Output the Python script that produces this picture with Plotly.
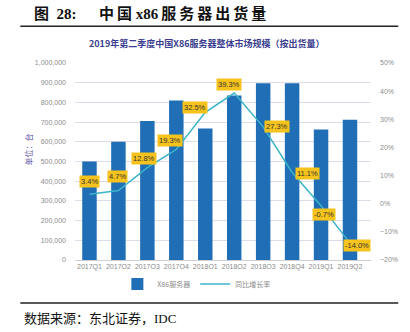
import plotly.graph_objects as go

quarters = ["2017Q1", "2017Q2", "2017Q3", "2017Q4", "2018Q1", "2018Q2",
            "2018Q3", "2018Q4", "2019Q1", "2019Q2"]
shipments = [500000, 600000, 705000, 810000, 668000, 835000,
             897000, 897000, 662000, 712000]
growth = [3.4, 4.7, 12.8, 19.3, 32.5, 39.3, 27.3, 11.1, -0.7, -14.0]
growth_labels = ["3.4%", "4.7%", "12.8%", "19.3%", "32.5%", "39.3%",
                 "27.3%", "11.1%", "-0.7%", "-14.0%"]

W, H = 410, 332
L, R, T, B = 75, 372.6, 62.7, 260.0


def px(x):
    return (x - L) / (R - L)


def py(y):
    return (B - y) / (B - T)


fig = go.Figure()
fig.add_trace(go.Bar(
    x=quarters, y=shipments, name="X86服务器",
    marker=dict(color="#1F6EB6", line=dict(width=0)), width=0.5,
))
fig.add_trace(go.Scatter(
    x=quarters, y=growth, name="同比增长率", yaxis="y2", mode="lines",
    line=dict(color="#3CB4C8", width=1.5),
))

# label offsets (px) relative to each point
xs = [0, -1, -3, -6, -10, -5, 14, 15, 3, 7]
ys = [13, 14, 9, 9, 5, 9, 0, -1, -9, -2]
for q, g, t, dx, dy in zip(quarters, growth, growth_labels, xs, ys):
    fig.add_annotation(
        x=q, y=g, yref="y2", text=t, showarrow=False, xshift=dx, yshift=dy,
        bgcolor="#F6C21C", borderpad=1,
        font=dict(size=7.5, color="#333333", family="Liberation Sans, Arial"),
    )

ts = "\u2009"
header = ("图" + "  " + "28:" + "      " + ts.join("中国") + " x86" + ts
          + ts.join("服务器出货量"))
fig.add_annotation(
    xref="paper", yref="paper", x=px(32), y=py(13), xanchor="left",
    yanchor="middle", showarrow=False,
    text="<b>" + header + "</b>",
    font=dict(size=15, color="#111111",
              family="Liberation Serif, Noto Sans CJK SC"),
)
fig.add_annotation(
    xref="paper", yref="paper", x=px(208), y=py(43), xanchor="center",
    yanchor="middle", showarrow=False,
    text="<b>2019年第二季度中国X86服务器整体市场规模（按出货量）</b>",
    font=dict(size=9, color="#3A3D8F", family="Noto Sans CJK SC"),
)
fig.add_annotation(
    xref="paper", yref="paper", x=px(28), y=py(149), xanchor="center",
    yanchor="middle", showarrow=False, textangle=-90,
    text="单位：台",
    font=dict(size=8, color="#5B4EA3", family="Noto Sans CJK SC"),
)
fig.add_annotation(
    xref="paper", yref="paper", x=px(22), y=py(319), xanchor="left",
    yanchor="middle", showarrow=False,
    text="数据来源：东北证券，IDC",
    font=dict(size=13, color="#111111",
              family="Liberation Serif, Noto Sans CJK SC"),
)
fig.add_shape(type="line", xref="paper", yref="paper",
              x0=px(20), x1=px(400), y0=py(26), y1=py(26),
              line=dict(color="#222222", width=1.5))
fig.add_shape(type="line", xref="paper", yref="paper",
              x0=px(20), x1=px(400), y0=py(303), y1=py(303),
              line=dict(color="#222222", width=1.5))

tick_font = dict(size=7, color="#8C8C8C", family="Liberation Sans, Arial")
fig.update_layout(
    width=W, height=H, autosize=False,
    margin=dict(l=L, r=W - R, t=T, b=H - B, pad=0),
    paper_bgcolor="white", plot_bgcolor="white",
    showlegend=True,
    legend=dict(orientation="h", x=0.41, xanchor="center", y=py(284),
                yanchor="middle", font=dict(size=7, color="#8C8C8C",
                                            family="Noto Sans CJK SC"),
                itemwidth=30, tracegroupgap=0),
    xaxis=dict(tickfont=tick_font, showgrid=False, ticks="",
               showline=True, linecolor="#D0D0D8", linewidth=1),
    yaxis=dict(range=[0, 1000000], dtick=100000, tickformat=",d",
               tickfont=tick_font, gridcolor="#DCDCEA", gridwidth=1,
               zeroline=False, ticks="", ticklabelstandoff=8),
    yaxis2=dict(range=[-20, 50], dtick=10, ticksuffix="%", overlaying="y",
                side="right", showgrid=False, zeroline=False,
                tickfont=tick_font, ticks="", ticklabelstandoff=8),
    bargap=0.5,
)

fig.write_html("out.html")
